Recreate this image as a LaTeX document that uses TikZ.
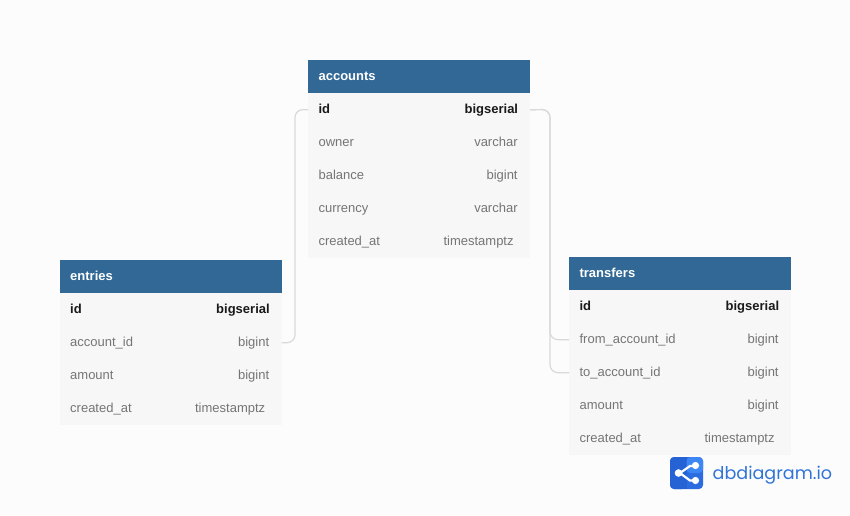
\documentclass[tikz,border=0pt]{standalone}
\usepackage{fontspec}
\setmainfont{Liberation Sans}
\newfontfamily\logofont{Poppins}
\definecolor{bgc}{HTML}{FCFCFC}
\definecolor{rowc}{HTML}{F7F7F7}
\definecolor{headc}{HTML}{316896}
\definecolor{greyt}{HTML}{757575}
\definecolor{idt}{HTML}{1A1A1A}
\definecolor{linec}{HTML}{D9D9D9}
\definecolor{logod}{HTML}{2563D4}
\definecolor{logom}{HTML}{2B6CE0}
\definecolor{logol}{HTML}{3D86F5}
\definecolor{logot}{HTML}{3274D6}
\tikzset{
  rowbox/.style={fill=rowc,draw=none,inner sep=0pt,minimum width=221.6pt,minimum height=33pt,anchor=north west},
  headbox/.style={fill=headc,draw=none,inner sep=0pt,minimum width=221.6pt,minimum height=33pt,anchor=north west},
  headtext/.style={font=\fontsize{13}{13}\selectfont\bfseries,text=white,anchor=base west,inner sep=0pt},
  nametext/.style={font=\fontsize{13}{13}\selectfont,text=greyt,anchor=base west,inner sep=0pt},
  typetext/.style={font=\fontsize{13}{13}\selectfont,text=greyt,anchor=base east,inner sep=0pt},
  pkname/.style={nametext,font=\fontsize{13}{13}\selectfont\bfseries,text=idt},
  pktype/.style={typetext,font=\fontsize{13}{13}\selectfont\bfseries,text=idt},
  relline/.style={draw=linec,line width=1.2pt,rounded corners=8pt},
}
% #1 table id, #2 row id, #3 x, #4 y top, #5 name, #6 type, #7 right inset, #8 name style, #9 type style
\newcommand{\tblrow}[9]{%
  \node[rowbox] (#1-#2) at (#3,#4) {};
  \node[#8] (#1-#2-n) at ($(#3,#4)+(10.2,20)$) {#5};
  \node[#9] (#1-#2-t) at ($(#3,#4)+(221.6-#7,20)$) {#6};
}
\newcommand{\tblhead}[4]{%
  \node[headbox] (#1) at (#2,#3) {};
  \node[headtext] (#1-title) at ($(#2,#3)+(10.2,20)$) {#4};
}
\usetikzlibrary{calc}
\begin{document}
\begin{tikzpicture}[x=1pt,y=-1pt]
\useasboundingbox (0,0) rectangle (850,515);
\fill[bgc] (0,0) rectangle (850,515);
% connectors
\coordinate (accL) at (295,109.5);
\coordinate (accR) at (550,109.5);
% accounts
\tblhead{accounts}{308.2}{60}{accounts}
\tblrow{accounts}{id}{308.2}{93}{id}{bigserial}{11.5}{pkname}{pktype}
\tblrow{accounts}{owner}{308.2}{126}{owner}{varchar}{12}{nametext}{typetext}
\tblrow{accounts}{balance}{308.2}{159}{balance}{bigint}{12}{nametext}{typetext}
\tblrow{accounts}{currency}{308.2}{192}{currency}{varchar}{12}{nametext}{typetext}
\tblrow{accounts}{created}{308.2}{225}{created\_at}{timestamptz}{16}{nametext}{typetext}
% entries
\tblhead{entries}{59.8}{260}{entries}
\tblrow{entries}{id}{59.8}{293}{id}{bigserial}{11.5}{pkname}{pktype}
\tblrow{entries}{account}{59.8}{326}{account\_id}{bigint}{12}{nametext}{typetext}
\tblrow{entries}{amount}{59.8}{359}{amount}{bigint}{12}{nametext}{typetext}
\tblrow{entries}{created}{59.8}{392}{created\_at}{timestamptz}{16}{nametext}{typetext}
% transfers
\tblhead{transfers}{569.2}{257}{transfers}
\tblrow{transfers}{id}{569.2}{290}{id}{bigserial}{11.5}{pkname}{pktype}
\tblrow{transfers}{from}{569.2}{323}{from\_account\_id}{bigint}{12}{nametext}{typetext}
\tblrow{transfers}{to}{569.2}{356}{to\_account\_id}{bigint}{12}{nametext}{typetext}
\tblrow{transfers}{amount}{569.2}{389}{amount}{bigint}{12}{nametext}{typetext}
\tblrow{transfers}{created}{569.2}{422}{created\_at}{timestamptz}{16}{nametext}{typetext}
% relations
\draw[relline] (accounts-id.west) -- (accL) -- (accL |- entries-account.west) -- (entries-account.east);
\draw[relline] (accounts-id.east) -- (accR) -- (accR |- transfers-from.west) -- (transfers-from.west);
\draw[relline] (accounts-id.east) -- (accR) -- (accR |- transfers-to.west) -- (transfers-to.west);
% logo
\fill[logom,rounded corners=4pt] (670,457) rectangle (703,489);
\fill[logod,rounded corners=4pt] (670,457) rectangle (686,489);
\fill[logod] (680,457) rectangle (686.5,489);
\fill[logol,rounded corners=4pt] (703,473) -- (703,457) -- (686.5,457) -- (686.5,473) -- cycle;
\draw[white,line width=2.2pt] (697,466) -- (690,466) -- (680,473) -- (690,480.5) -- (697,480.5);
\fill[white] (678.5,473) circle (3.8);
\fill[white] (695.5,465.5) circle (3.6);
\fill[white] (695.5,480.5) circle (3.6);
\node[font=\logofont\fontsize{17.55}{18}\selectfont,text=logot,anchor=base west,inner sep=0pt] (logotext) at (712.5,479.5) {dbdiagram.io};
\end{tikzpicture}
\end{document}
